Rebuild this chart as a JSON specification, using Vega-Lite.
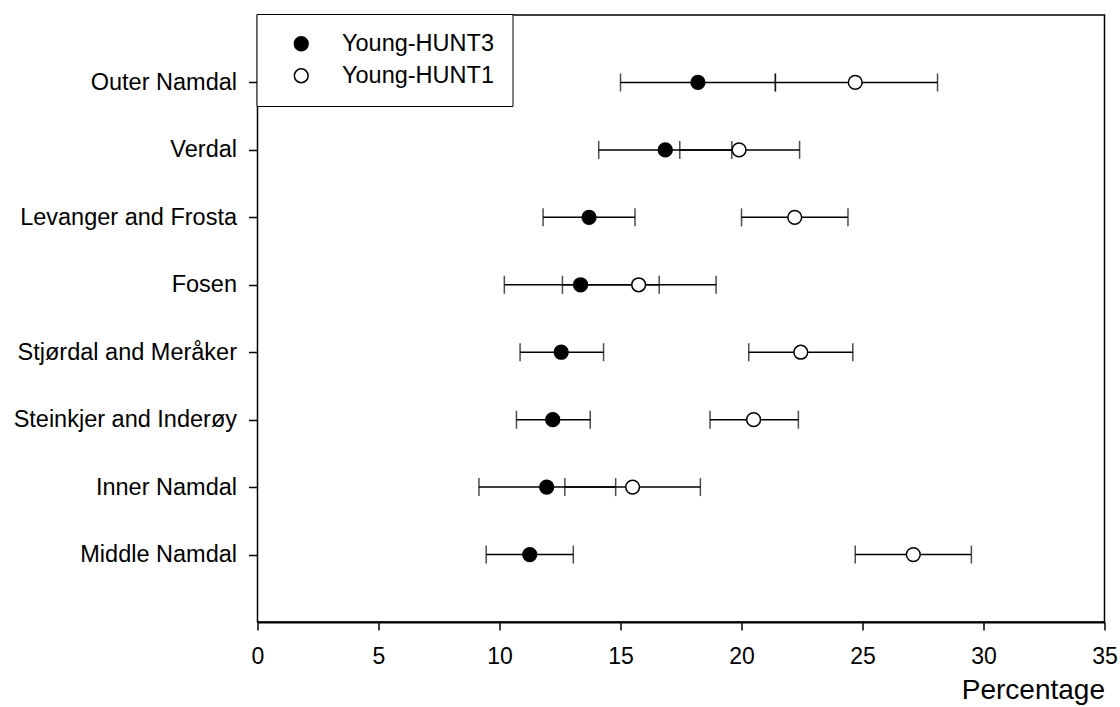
{
  "$schema": "https://vega.github.io/schema/vega-lite/v6.json",
  "autosize": {"type": "none"},
  "padding": {"left": 257.5, "top": 15, "right": 15, "bottom": 85},
  "width": 847,
  "height": 607,
  "background": "white",
  "config": {
    "font": "Liberation Sans",
    "view": {"stroke": "black", "strokeWidth": 1.5},
    "axis": {"grid": false, "domainColor": "black", "tickColor": "black", "labelColor": "black", "titleColor": "black", "labelFont": "Liberation Sans", "titleFont": "Liberation Sans", "titleFontWeight": "normal"}
  },
  "data": {
    "values": [
      {"region": "Outer Namdal", "survey": "Young-HUNT3", "value": 18.2, "lo": 15.0, "hi": 21.4},
      {"region": "Outer Namdal", "survey": "Young-HUNT1", "value": 24.7, "lo": 21.4, "hi": 28.1},
      {"region": "Verdal", "survey": "Young-HUNT3", "value": 16.85, "lo": 14.1, "hi": 19.6},
      {"region": "Verdal", "survey": "Young-HUNT1", "value": 19.9, "lo": 17.45, "hi": 22.4},
      {"region": "Levanger and Frosta", "survey": "Young-HUNT3", "value": 13.7, "lo": 11.8, "hi": 15.6},
      {"region": "Levanger and Frosta", "survey": "Young-HUNT1", "value": 22.2, "lo": 20.0, "hi": 24.4},
      {"region": "Fosen", "survey": "Young-HUNT3", "value": 13.35, "lo": 10.2, "hi": 16.6},
      {"region": "Fosen", "survey": "Young-HUNT1", "value": 15.75, "lo": 12.6, "hi": 18.95},
      {"region": "Stjørdal and Meråker", "survey": "Young-HUNT3", "value": 12.55, "lo": 10.85, "hi": 14.3},
      {"region": "Stjørdal and Meråker", "survey": "Young-HUNT1", "value": 22.45, "lo": 20.3, "hi": 24.6},
      {"region": "Steinkjer and Inderøy", "survey": "Young-HUNT3", "value": 12.2, "lo": 10.7, "hi": 13.75},
      {"region": "Steinkjer and Inderøy", "survey": "Young-HUNT1", "value": 20.5, "lo": 18.7, "hi": 22.35},
      {"region": "Inner Namdal", "survey": "Young-HUNT3", "value": 11.95, "lo": 9.15, "hi": 14.8},
      {"region": "Inner Namdal", "survey": "Young-HUNT1", "value": 15.5, "lo": 12.7, "hi": 18.3},
      {"region": "Middle Namdal", "survey": "Young-HUNT3", "value": 11.25, "lo": 9.45, "hi": 13.05},
      {"region": "Middle Namdal", "survey": "Young-HUNT1", "value": 27.1, "lo": 24.7, "hi": 29.5}
    ]
  },
  "encoding": {
    "y": {
      "field": "region", "type": "nominal",
      "sort": ["Outer Namdal", "Verdal", "Levanger and Frosta", "Fosen", "Stjørdal and Meråker", "Steinkjer and Inderøy", "Inner Namdal", "Middle Namdal"],
      "scale": {"type": "point", "padding": 1},
      "axis": {"title": null, "labelFontSize": 23.5, "labelLimit": 400, "tickSize": 9, "tickWidth": 1.5, "labelPadding": 12, "domain": false}
    }
  },
  "layer": [
    {
      "mark": {"type": "rule", "color": "black", "strokeWidth": 1.5},
      "encoding": {
        "x": {"field": "lo", "type": "quantitative", "scale": {"domain": [0, 35], "nice": false},
          "axis": {"title": "Percentage", "values": [0, 5, 10, 15, 20, 25, 30, 35], "labelFontSize": 23, "titleFontSize": 28, "titleAnchor": "end", "titlePadding": 8, "tickSize": 8, "tickWidth": 1.5, "domainWidth": 2, "labelPadding": 15, "labelFlush": false}},
        "x2": {"field": "hi"}
      }
    },
    {
      "mark": {"type": "tick", "color": "black", "thickness": 1.5, "size": 18, "orient": "vertical"},
      "encoding": {"x": {"field": "lo", "type": "quantitative"}}
    },
    {
      "mark": {"type": "tick", "color": "black", "thickness": 1.5, "size": 18, "orient": "vertical"},
      "encoding": {"x": {"field": "hi", "type": "quantitative"}}
    },
    {
      "mark": {"type": "point", "shape": "circle", "filled": true, "size": 190, "stroke": "black", "strokeWidth": 1.5, "opacity": 1},
      "encoding": {
        "x": {"field": "value", "type": "quantitative"},
        "fill": {
          "field": "survey", "type": "nominal",
          "scale": {"domain": ["Young-HUNT3", "Young-HUNT1"], "range": ["black", "white"]},
          "legend": {
            "title": null, "orient": "none", "legendX": -1, "legendY": -1,
            "strokeColor": "black", "fillColor": "white",
            "padding": 18, "symbolOffset": 15, "labelOffset": 29, "labelFontSize": 23.5, "labelColor": "black",
            "rowPadding": 7, "symbolType": "circle", "symbolSize": 190, "symbolStrokeColor": "black", "symbolStrokeWidth": 1.5, "labelFont": "Liberation Sans",
            "encode": {"legend": {"update": {"strokeWidth": {"value": 1.5}}}}
          }
        }
      }
    }
  ]
}
